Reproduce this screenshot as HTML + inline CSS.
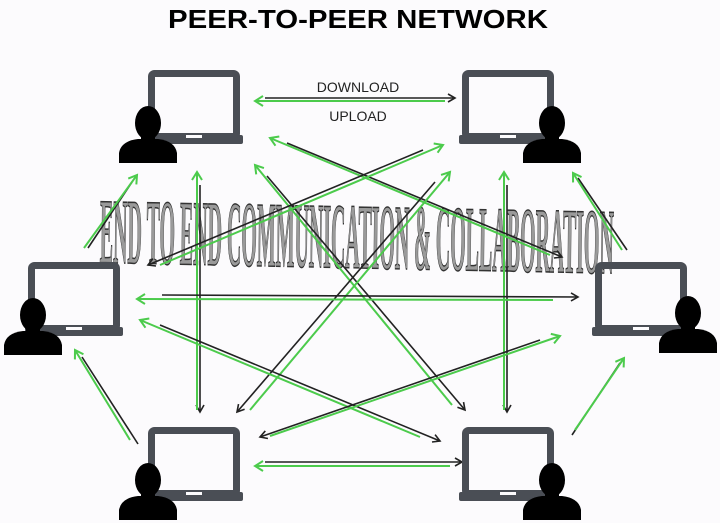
<!DOCTYPE html>
<html><head><meta charset="utf-8"><style>
html,body{margin:0;padding:0;background:#fcfbfd;}
svg{display:block;}
</style></head><body>
<svg width="720" height="523" viewBox="0 0 720 523" xmlns="http://www.w3.org/2000/svg">
<defs>
<marker id="ab" markerWidth="10" markerHeight="10" refX="8" refY="5" orient="auto" markerUnits="userSpaceOnUse"><path d="M1,1 L8,5 L1,9" fill="none" stroke="#222" stroke-width="1.6"/></marker>
<marker id="ag" markerWidth="12" markerHeight="12" refX="9" refY="6" orient="auto" markerUnits="userSpaceOnUse"><path d="M1,1 L9,6 L1,11" fill="none" stroke="#4ccb4c" stroke-width="2"/></marker>
<g id="lap">
<rect x="3.5" y="3.5" width="85" height="63" rx="3" fill="none" stroke="#4a4e55" stroke-width="7"/>
<rect x="-3" y="65" width="98" height="9" rx="2" fill="#4a4e55"/>
<rect x="38" y="65" width="16" height="3" fill="#fcfbfd"/>
</g>
<g id="per">
<ellipse cx="30" cy="20" rx="13" ry="17" fill="#000"/>
<rect x="23" y="30" width="14" height="10" fill="#000"/>
<path d="M1,60 L1,50 Q3,38 20,36 L40,36 Q57,38 59,50 L59,60 Z" fill="#000"/>
</g>
</defs>

<text x="358" y="28" text-anchor="middle" font-family="Liberation Sans, sans-serif" font-weight="bold" font-size="26" textLength="380" lengthAdjust="spacingAndGlyphs" fill="#000">PEER-TO-PEER NETWORK</text>

<!-- watermark -->
<g transform="translate(0,268) scale(1,1.5) translate(0,-268) rotate(0.8 360 235)">
<text x="100" y="268" font-family="Liberation Serif, serif" font-weight="bold" font-size="62" textLength="514" lengthAdjust="spacingAndGlyphs" fill="#9a9a9a" stroke="#333" stroke-width="1">END TO END COMMUNICATION &amp; COLLABORATION</text>
</g>

<g stroke-width="1.6" fill="none">
<line x1="265" y1="98" x2="455" y2="98" stroke="#222" marker-end="url(#ab)"/>
<line x1="445" y1="101" x2="255" y2="101" stroke="#4ccb4c" stroke-width="2" marker-end="url(#ag)"/>
<line x1="200" y1="185" x2="200" y2="412" stroke="#222" marker-end="url(#ab)"/>
<line x1="197" y1="410" x2="197" y2="172" stroke="#4ccb4c" stroke-width="2" marker-end="url(#ag)"/>
<line x1="507" y1="185" x2="507" y2="412" stroke="#222" marker-end="url(#ab)"/>
<line x1="504" y1="410" x2="504" y2="172" stroke="#4ccb4c" stroke-width="2" marker-end="url(#ag)"/>
<line x1="287" y1="143" x2="562" y2="257" stroke="#222" marker-end="url(#ab)"/>
<line x1="550" y1="255" x2="270" y2="138" stroke="#4ccb4c" stroke-width="2" marker-end="url(#ag)"/>
<line x1="267" y1="176" x2="465" y2="410" stroke="#222" marker-end="url(#ab)"/>
<line x1="452" y1="405" x2="255" y2="165" stroke="#4ccb4c" stroke-width="2" marker-end="url(#ag)"/>
<line x1="423" y1="150" x2="148" y2="265" stroke="#222" marker-end="url(#ab)"/>
<line x1="160" y1="265" x2="443" y2="145" stroke="#4ccb4c" stroke-width="2" marker-end="url(#ag)"/>
<line x1="435" y1="182" x2="237" y2="412" stroke="#222" marker-end="url(#ab)"/>
<line x1="250" y1="410" x2="450" y2="172" stroke="#4ccb4c" stroke-width="2" marker-end="url(#ag)"/>
<line x1="162" y1="295" x2="578" y2="297" stroke="#222" marker-end="url(#ab)"/>
<line x1="553" y1="300" x2="137" y2="299" stroke="#4ccb4c" stroke-width="2" marker-end="url(#ag)"/>
<line x1="160" y1="325" x2="440" y2="441" stroke="#222" marker-end="url(#ab)"/>
<line x1="420" y1="437" x2="140" y2="320" stroke="#4ccb4c" stroke-width="2" marker-end="url(#ag)"/>
<line x1="540" y1="340" x2="260" y2="437" stroke="#222" marker-end="url(#ab)"/>
<line x1="270" y1="436" x2="560" y2="336" stroke="#4ccb4c" stroke-width="2" marker-end="url(#ag)"/>
<line x1="265" y1="462" x2="462" y2="462" stroke="#222" marker-end="url(#ab)"/>
<line x1="450" y1="466" x2="255" y2="466" stroke="#4ccb4c" stroke-width="2" marker-end="url(#ag)"/>
<line x1="132" y1="182" x2="88" y2="248" stroke="#222"/>
<line x1="84" y1="248" x2="137" y2="175" stroke="#4ccb4c" stroke-width="2" marker-end="url(#ag)"/>
<line x1="82" y1="357" x2="138" y2="444" stroke="#222"/>
<line x1="130" y1="440" x2="75" y2="350" stroke="#4ccb4c" stroke-width="2" marker-end="url(#ag)"/>
<line x1="578" y1="178" x2="627" y2="250" stroke="#222"/>
<line x1="622" y1="250" x2="573" y2="173" stroke="#4ccb4c" stroke-width="2" marker-end="url(#ag)"/>
<line x1="620" y1="363" x2="572" y2="435" stroke="#222"/>
<line x1="575" y1="430" x2="624" y2="358" stroke="#4ccb4c" stroke-width="2" marker-end="url(#ag)"/>
</g>

<text x="358" y="92" text-anchor="middle" font-family="Liberation Sans, sans-serif" font-size="14" fill="#222">DOWNLOAD</text>
<text x="358" y="121" text-anchor="middle" font-family="Liberation Sans, sans-serif" font-size="14" fill="#222">UPLOAD</text>

<use href="#lap" x="148" y="70"/><use href="#per" x="118" y="103"/>
<use href="#lap" x="462" y="70"/><use href="#per" x="522" y="103"/>
<use href="#lap" x="28" y="262"/><use href="#per" x="3" y="295"/>
<use href="#lap" x="595" y="262"/><use href="#per" x="658" y="293"/>
<use href="#lap" x="148" y="427"/><use href="#per" x="118" y="460"/>
<use href="#lap" x="462" y="427"/><use href="#per" x="522" y="460"/>
</svg>
</body></html>
